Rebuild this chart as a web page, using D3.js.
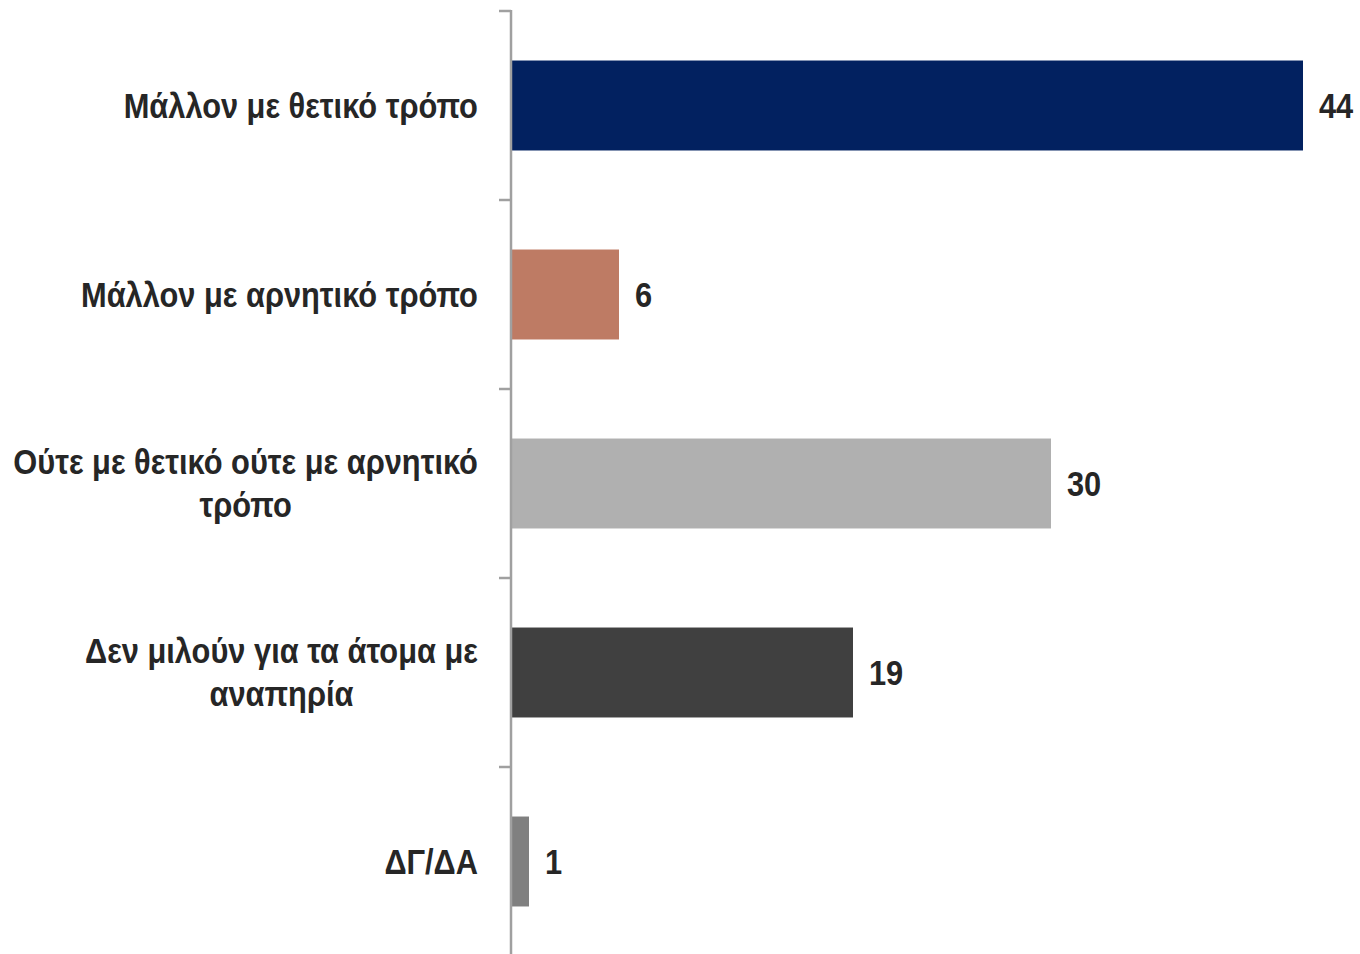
<!DOCTYPE html>
<html><head><meta charset="utf-8">
<script src="https://cdn.jsdelivr.net/npm/d3@7"></script>
<style>html,body{margin:0;padding:0;background:#fff;} svg{display:block;}</style>
</head><body>
<svg id="chart" width="1360" height="954"></svg>
<script>
const categories = [
  "Μάλλον με θετικό τρόπο",
  "Μάλλον με αρνητικό τρόπο",
  "Ούτε με θετικό ούτε με αρνητικό\nτρόπο",
  "Δεν μιλούν για τα άτομα με\nαναπηρία",
  "ΔΓ/ΔΑ"
];
const values = [44, 6, 30, 19, 1];
const colors = ["#022160", "#BE7B64", "#B0B0B0", "#404040", "#808080"];

const svg = d3.select("#chart");
const font = "'Liberation Sans', Arial, sans-serif";
const fontSize = 35;
const sx = 0.88;
const axisX = 511;
const x = d3.scaleLinear().domain([0, 44]).range([axisX, 1303]);
const y = d3.scaleBand().domain(d3.range(categories.length)).range([11, 956]).paddingInner(0.524).paddingOuter(0.262);

svg.selectAll("rect.bar").data(values).join("rect")
  .attr("class", "bar")
  .attr("x", x(0) + 1)
  .attr("y", (d, i) => y(i))
  .attr("width", d => x(d) - x(0) - 1)
  .attr("height", y.bandwidth())
  .attr("fill", (d, i) => colors[i]);

// axis line and ticks at band boundaries
const step = y.step();
const boundaries = d3.range(categories.length + 1).map(i => 11 + i * step);
svg.append("line").attr("x1", axisX).attr("x2", axisX).attr("y1", 10).attr("y2", 954)
  .attr("stroke", "#A0A0A0").attr("stroke-width", 2.5);
svg.selectAll("line.tick").data(boundaries).join("line")
  .attr("class", "tick")
  .attr("x1", axisX - 12).attr("x2", axisX)
  .attr("y1", d => d).attr("y2", d => d)
  .attr("stroke", "#A0A0A0").attr("stroke-width", 2.5);

// value labels
svg.selectAll("text.val").data(values).join("text")
  .attr("class", "val")
  .attr("transform", (d, i) => `translate(${x(d) + 16},${y(i) + y.bandwidth() / 2}) scale(${sx},1)`)
  .attr("dy", "0.35em")
  .attr("font-family", font).attr("font-weight", "bold").attr("font-size", fontSize)
  .attr("fill", "#262626").text(d => d);

// category labels
const labelRight = 478;
const lineH = 43;
categories.forEach((c, i) => {
  const lines = c.split("\n");
  const g = svg.append("g");
  const cy = y(i) + y.bandwidth() / 2;
  const texts = lines.map((ln, j) => g.append("text")
    .attr("dy", "0.35em")
    .attr("font-family", font).attr("font-weight", "bold").attr("font-size", fontSize)
    .attr("fill", "#262626").attr("text-anchor", "middle").text(ln)
    .datum(cy + (j - (lines.length - 1) / 2) * lineH));
  const maxW = d3.max(texts, t => t.node().getComputedTextLength()) * sx;
  texts.forEach(t => t.attr("transform", d => `translate(${labelRight - maxW / 2},${d}) scale(${sx},1)`));
});
</script>
</body></html>
